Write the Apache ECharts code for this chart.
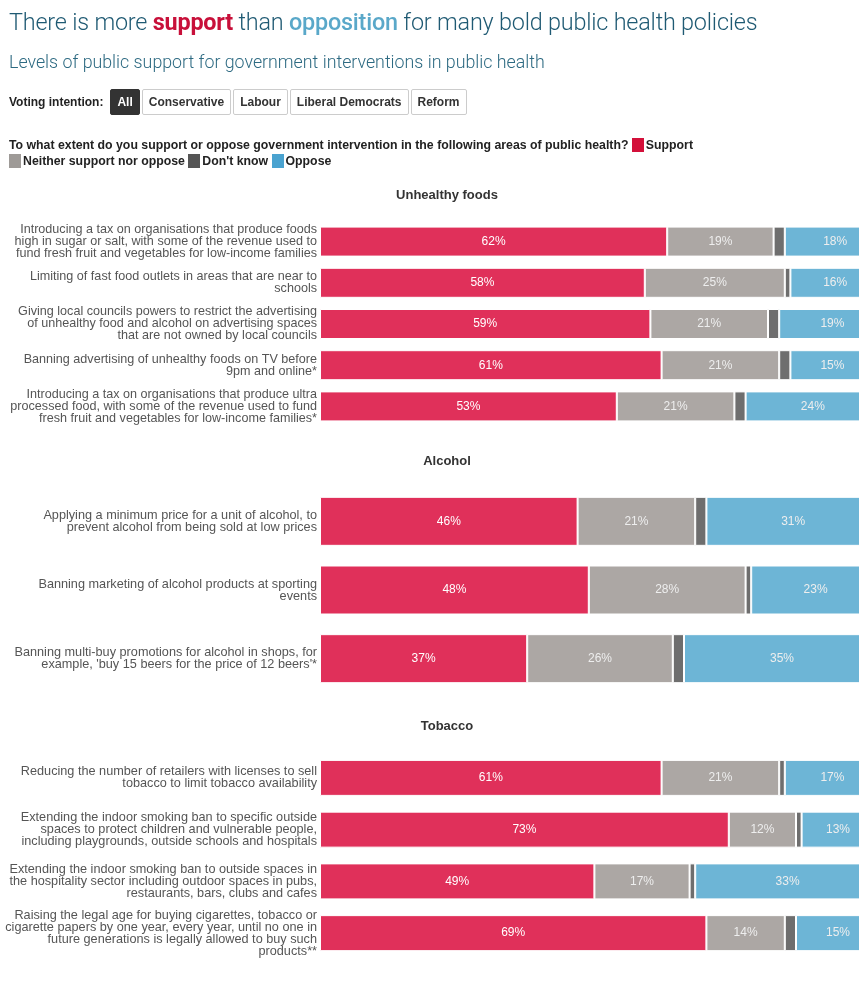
<!DOCTYPE html>
<html>
<head>
<meta charset="utf-8">
<script src="https://cdn.jsdelivr.net/npm/echarts@6/dist/echarts.min.js"></script>
<style>
  html, body { margin: 0; padding: 0; background: #fff; }
  body { width: 859px; height: 1000px; position: relative; overflow: hidden; font-family: "Liberation Sans", Arial, sans-serif; }
  #chart { position: absolute; left: 0; top: 0; width: 859px; height: 1000px; }
  .hdr { position: absolute; left: 9px; white-space: nowrap; z-index: 2; }
  #title { top: 8px; font-family: Roboto, "Liberation Sans", sans-serif; font-weight: 300; font-size: 23.4px; color: #1f5a73; letter-spacing: -0.2px; }
  #title .sup { color: #c8103a; font-weight: 700; }
  #title .opp { color: #5aa8c9; font-weight: 500; }
  #subtitle { top: 51px; font-family: Roboto, "Liberation Sans", sans-serif; font-weight: 300; font-size: 17.8px; color: #2d6a82; }
  #voting { top: 89px; font-size: 12px; color: #222; display: flex; align-items: center; }
  #voting .lbl { margin-right: 7px; font-weight: 600; }
  #voting .btn { border: 1px solid #ccc; padding: 0 6px; height: 24px; line-height: 24px; margin-right: 2px; font-weight: 600; color: #333; border-radius: 2px; }
  #voting .btn.on { background: #333; color: #fff; border-color: #333; }
  #question { top: 137px; font-size: 12.3px; color: #222; font-weight: 600; line-height: 16px; }
  .sw { display: inline-block; width: 12px; height: 14px; vertical-align: -3px; margin-right: 2px; }
</style>
</head>
<body>
<div id="title" class="hdr">There is more <span class="sup">support</span> than <span class="opp">opposition</span> for many bold public health policies</div>
<div id="subtitle" class="hdr">Levels of public support for government interventions in public health</div>
<div id="voting" class="hdr"><span class="lbl">Voting intention:</span><span class="btn on">All</span><span class="btn">Conservative</span><span class="btn">Labour</span><span class="btn">Liberal Democrats</span><span class="btn">Reform</span></div>
<div id="question" class="hdr">To what extent do you support or oppose government intervention in the following areas of public health? <span class="sw" style="background:#d3103a"></span>Support<br><span class="sw" style="background:#9e9a97"></span>Neither support nor oppose <span class="sw" style="background:#555"></span>Don't know <span class="sw" style="background:#4aa3d0"></span>Oppose</div>
<div id="chart"></div>
<script>
// ---- Data ----
const sectionTitles = ['Unhealthy foods', 'Alcohol', 'Tobacco'];
const seriesNames = ['Support', 'Neither support nor oppose', "Don't know", 'Oppose'];

const foodsLabels = [
  'Introducing a tax on organisations that produce foods\nhigh in sugar or salt, with some of the revenue used to\nfund fresh fruit and vegetables for low-income families',
  'Limiting of fast food outlets in areas that are near to\nschools',
  'Giving local councils powers to restrict the advertising\nof unhealthy food and alcohol on advertising spaces\nthat are not owned by local councils',
  'Banning advertising of unhealthy foods on TV before\n9pm and online*',
  'Introducing a tax on organisations that produce ultra\nprocessed food, with some of the revenue used to fund\nfresh fruit and vegetables for low-income families*'
];
const foodsSupport  = [62, 58, 59, 61, 53];
const foodsNeither  = [19, 25, 21, 21, 21];
const foodsDontKnow = [2, 1, 2, 2, 2];
const foodsOppose   = [18, 16, 19, 15, 24];

const alcoholLabels = [
  'Applying a minimum price for a unit of alcohol, to\nprevent alcohol from being sold at low prices',
  'Banning marketing of alcohol products at sporting\nevents',
  "Banning multi-buy promotions for alcohol in shops, for\nexample, 'buy 15 beers for the price of 12 beers'*"
];
const alcoholSupport  = [46, 48, 37];
const alcoholNeither  = [21, 28, 26];
const alcoholDontKnow = [2, 1, 2];
const alcoholOppose   = [31, 23, 35];

const tobaccoLabels = [
  'Reducing the number of retailers with licenses to sell\ntobacco to limit tobacco availability',
  'Extending the indoor smoking ban to specific outside\nspaces to protect children and vulnerable people,\nincluding playgrounds, outside schools and hospitals',
  'Extending the indoor smoking ban to outside spaces in\nthe hospitality sector including outdoor spaces in pubs,\nrestaurants, bars, clubs and cafes',
  'Raising the legal age for buying cigarettes, tobacco or\ncigarette papers by one year, every year, until no one in\nfuture generations is legally allowed to buy such\nproducts**'
];
const tobaccoSupport  = [61, 73, 49, 69];
const tobaccoNeither  = [21, 12, 17, 14];
const tobaccoDontKnow = [1, 1, 1, 2];
const tobaccoOppose   = [17, 13, 33, 15];

// ---- Build ----
const sections = [
  { labels: foodsLabels, vals: [foodsSupport, foodsNeither, foodsDontKnow, foodsOppose], top: 221, height: 206, barW: 30, titleTop: 184, fs: 12.6 },
  { labels: alcoholLabels, vals: [alcoholSupport, alcoholNeither, alcoholDontKnow, alcoholOppose], top: 487, height: 206, barW: 49, titleTop: 450, fs: 12.7 },
  { labels: tobaccoLabels, vals: [tobaccoSupport, tobaccoNeither, tobaccoDontKnow, tobaccoOppose], top: 752, height: 207, barW: 36, titleTop: 715, fs: 12.7 }
];
const colors = ['#e0305a', '#aca7a4', '#6e6e6e', '#6db5d6'];
const labelColors = ['#ffffff', '#eeeeee', '#ffffff', '#eeeeee'];

const grids = [], xAxes = [], yAxes = [], series = [], titles = [];
sections.forEach((s, i) => {
  grids.push({ left: 320, width: 560, top: s.top, height: s.height, containLabel: false, outerBoundsMode: 'none' });
  xAxes.push({ type: 'value', gridIndex: i, min: 0, max: 100, show: false });
  yAxes.push({
    type: 'category', gridIndex: i, data: s.labels, inverse: true,
    axisLine: { show: false }, axisTick: { show: false }, splitLine: { show: false },
    axisLabel: { margin: 3, color: '#555', fontSize: s.fs, lineHeight: 12, fontFamily: 'Liberation Sans, Arial, sans-serif', align: 'right' }
  });
  titles.push({
    text: sectionTitles[i], left: 442, top: s.titleTop, textAlign: 'center',
    textStyle: { fontSize: 13, fontWeight: 600, color: '#333', fontFamily: 'Liberation Sans, Arial, sans-serif' }
  });
  s.vals.forEach((v, k) => {
    series.push({
      name: seriesNames[k], type: 'bar', stack: 'sec' + i,
      xAxisIndex: i, yAxisIndex: i, data: v, barWidth: s.barW, clip: false,
      itemStyle: { color: colors[k], borderColor: '#fff', borderWidth: 1 },
      label: {
        show: k !== 2, position: 'inside', formatter: '{c}%',
        color: labelColors[k], fontSize: 12, fontFamily: 'Liberation Sans, Arial, sans-serif'
      },
      emphasis: { disabled: true },
      animation: false
    });
  });
});

const chart = echarts.init(document.getElementById('chart'));
chart.setOption({
  animation: false,
  title: titles,
  grid: grids,
  xAxis: xAxes,
  yAxis: yAxes,
  series: series
});
</script>
</body>
</html>
